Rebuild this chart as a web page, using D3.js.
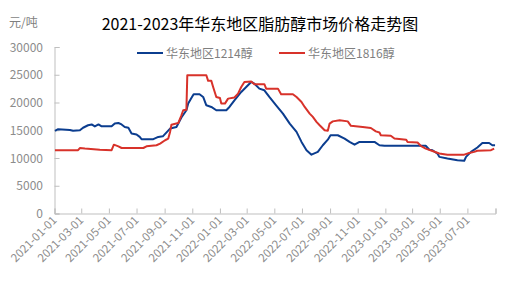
<!DOCTYPE html>
<html>
<head>
<meta charset="utf-8">
<script src="https://cdn.jsdelivr.net/npm/d3@7"></script>
<style>
  html, body { margin: 0; padding: 0; background: #fff; }
  svg text { font-family: "Noto Sans CJK SC", "Noto Sans", sans-serif; }
</style>
</head>
<body>
<div id="chart"></div>
<script>
// Data
const seriesNames = ["华东地区1214醇", "华东地区1816醇"];
const xTickLabels = ["2021-01-01", "2021-03-01", "2021-05-01", "2021-07-01", "2021-09-01", "2021-11-01",
    "2022-01-01", "2022-03-01", "2022-05-01", "2022-07-01", "2022-09-01", "2022-11-01",
    "2023-01-01", "2023-03-01", "2023-05-01", "2023-07-01"];
const yTicks = [0, 5000, 10000, 15000, 20000, 25000, 30000];

const price1214 = [
    ["2021-01-02", 14900], ["2021-01-09", 15200], ["2021-02-04", 15050], ["2021-02-11", 14900],
    ["2021-02-26", 15000], ["2021-03-05", 15450], ["2021-03-16", 15900], ["2021-03-24", 16050],
    ["2021-03-31", 15700], ["2021-04-08", 16050], ["2021-04-15", 15700], ["2021-05-07", 15700],
    ["2021-05-14", 16200], ["2021-05-22", 16300], ["2021-05-29", 16050], ["2021-06-05", 15600],
    ["2021-06-13", 15450], ["2021-06-20", 14400], ["2021-07-01", 14250], ["2021-07-08", 13800],
    ["2021-07-12", 13400], ["2021-08-07", 13400], ["2021-08-18", 13800], ["2021-08-28", 13900],
    ["2021-09-13", 15300], ["2021-09-27", 15600], ["2021-10-08", 17300], ["2021-10-19", 18600],
    ["2021-10-23", 19800], ["2021-10-30", 20800], ["2021-11-04", 21500], ["2021-11-17", 21500],
    ["2021-11-25", 21000], ["2021-12-02", 19500], ["2021-12-13", 19200], ["2021-12-24", 18600],
    ["2022-01-15", 18600], ["2022-01-22", 19200], ["2022-02-02", 20400], ["2022-02-17", 21900],
    ["2022-02-28", 22800], ["2022-03-11", 23700], ["2022-03-18", 23400], ["2022-03-29", 22500],
    ["2022-04-09", 22200], ["2022-04-20", 21000], ["2022-05-05", 19500], ["2022-05-20", 18000],
    ["2022-06-04", 16200], ["2022-06-19", 14700], ["2022-06-30", 12900], ["2022-07-11", 11400],
    ["2022-07-22", 10600], ["2022-08-05", 11100], ["2022-08-16", 12300], ["2022-08-27", 13300],
    ["2022-09-02", 14100], ["2022-09-18", 14100], ["2022-10-03", 13500], ["2022-10-14", 12900],
    ["2022-10-25", 12400], ["2022-11-05", 12900], ["2022-12-08", 12900], ["2022-12-19", 12300],
    ["2022-12-30", 12200], ["2023-03-17", 12200], ["2023-03-31", 12200], ["2023-04-08", 11500],
    ["2023-04-15", 11400], ["2023-04-26", 10800], ["2023-04-30", 10200], ["2023-05-18", 9900],
    ["2023-06-09", 9600], ["2023-06-24", 9500], ["2023-06-28", 10200], ["2023-07-09", 11100],
    ["2023-07-23", 11900], ["2023-08-03", 12700], ["2023-08-18", 12700], ["2023-08-25", 12300],
    ["2023-08-31", 12300]
];

const price1816 = [
    ["2021-01-02", 11400], ["2021-02-22", 11400], ["2021-02-26", 11800], ["2021-03-09", 11700],
    ["2021-04-11", 11500], ["2021-05-07", 11400], ["2021-05-12", 12400], ["2021-05-22", 12100],
    ["2021-05-29", 11800], ["2021-07-16", 11800], ["2021-07-23", 12100], ["2021-08-14", 12300],
    ["2021-08-22", 12600], ["2021-09-02", 13200], ["2021-09-09", 13500], ["2021-09-13", 14700],
    ["2021-09-16", 16000], ["2021-10-01", 16300], ["2021-10-08", 17700], ["2021-10-12", 18600],
    ["2021-10-19", 18700], ["2021-10-21", 24900], ["2021-12-02", 24900], ["2021-12-06", 23900],
    ["2021-12-13", 23900], ["2021-12-17", 22800], ["2021-12-24", 21000], ["2022-01-01", 20800],
    ["2022-01-04", 19800], ["2022-01-12", 19800], ["2022-01-19", 20700], ["2022-02-02", 20900],
    ["2022-02-10", 21600], ["2022-02-17", 22800], ["2022-02-24", 23700], ["2022-03-11", 23800],
    ["2022-03-18", 23300], ["2022-04-09", 23300], ["2022-04-13", 22500], ["2022-05-09", 22500],
    ["2022-05-16", 21500], ["2022-06-11", 21500], ["2022-06-19", 21000], ["2022-06-30", 20100],
    ["2022-07-07", 19200], ["2022-07-18", 18000], ["2022-07-25", 17400], ["2022-08-02", 16500],
    ["2022-08-09", 15900], ["2022-08-20", 15000], ["2022-08-27", 14900], ["2022-08-31", 16200],
    ["2022-09-07", 16600], ["2022-09-22", 16800], ["2022-10-10", 16600], ["2022-10-17", 15800],
    ["2022-11-12", 15600], ["2022-11-30", 15400], ["2022-12-11", 14800], ["2022-12-19", 14600],
    ["2022-12-22", 14100], ["2023-01-13", 14000], ["2023-01-21", 13500], ["2023-02-16", 13300],
    ["2023-02-19", 12900], ["2023-03-13", 12800], ["2023-03-20", 12200], ["2023-03-31", 11700],
    ["2023-04-15", 11250], ["2023-04-30", 10800], ["2023-05-18", 10600], ["2023-06-24", 10600],
    ["2023-07-05", 10900], ["2023-07-16", 11100], ["2023-07-23", 11300], ["2023-08-22", 11400],
    ["2023-08-29", 11700]
];

const colors = ["#0b3d8f", "#d8322a"];

const W = 522, H = 295;
const parse = d3.timeParse("%Y-%m-%d");
const fmt = d3.timeFormat("%Y-%m-%d");

const svg = d3.select("#chart").append("svg")
    .attr("width", W)
    .attr("height", H);

const x = d3.scaleTime()
    .domain([parse("2021-01-01"), parse("2023-09-01")])
    .range([54.5, 495.5]);

const y = d3.scaleLinear()
    .domain([0, 30000])
    .range([213.5, 47]);

// title + unit
svg.append("text")
    .attr("x", 260).attr("y", 30)
    .attr("text-anchor", "middle")
    .attr("font-size", 16)
    .attr("fill", "#000")
    .text("2021-2023年华东地区脂肪醇市场价格走势图");

svg.append("text")
    .attr("x", 9).attr("y", 27)
    .attr("font-size", 12)
    .attr("fill", "#7f7f7f")
    .text("元/吨");

// y axis
const yAxis = svg.append("g")
    .attr("transform", "translate(54.5,0)")
    .call(d3.axisRight(y).tickValues(yTicks).tickSize(5).tickFormat(""));
yAxis.select(".domain").attr("stroke", "#bfbfbf");
yAxis.selectAll(".tick line").attr("stroke", "#bfbfbf");

svg.append("g").selectAll("text")
    .data(yTicks)
    .enter().append("text")
    .attr("x", 43)
    .attr("y", d => y(d) + 4.5)
    .attr("text-anchor", "end")
    .attr("font-size", 12)
    .attr("fill", "#8c8c8c")
    .text(d => d);

// x axis
const xTicks = d3.timeMonth.every(2).range(parse("2021-01-01"), parse("2023-09-02"));
const xAxis = svg.append("g")
    .attr("transform", "translate(0,213.5)")
    .call(d3.axisTop(x).tickValues(xTicks).tickSize(5).tickFormat(""));
xAxis.select(".domain").attr("stroke", "#bfbfbf");
xAxis.selectAll(".tick line").attr("stroke", "#bfbfbf");

svg.append("g").selectAll("text")
    .data(xTickLabels)
    .enter().append("text")
    .attr("transform", d => `translate(${x(parse(d)) + 3},${221}) rotate(-45)`)
    .attr("text-anchor", "end")
    .attr("font-size", 11.5)
    .attr("fill", "#8c8c8c")
    .text(d => d);

// lines
const line = d3.line()
    .x(d => x(parse(d[0])))
    .y(d => y(d[1]));

[price1214, price1816].forEach((s, i) => {
    svg.append("path")
        .datum(s)
        .attr("fill", "none")
        .attr("stroke", colors[i])
        .attr("stroke-width", 2)
        .attr("stroke-linejoin", "round")
        .attr("d", line);
});

// legend
const legendX = [137, 279];
seriesNames.forEach((name, i) => {
    const g = svg.append("g").attr("transform", `translate(${legendX[i]},53)`);
    g.append("line")
        .attr("x1", 0).attr("x2", 26)
        .attr("stroke", colors[i])
        .attr("stroke-width", 2);
    g.append("text")
        .attr("x", 29).attr("y", 4.5)
        .attr("font-size", 12)
        .attr("fill", "#7f7f7f")
        .text(name);
});
</script>
</body>
</html>
